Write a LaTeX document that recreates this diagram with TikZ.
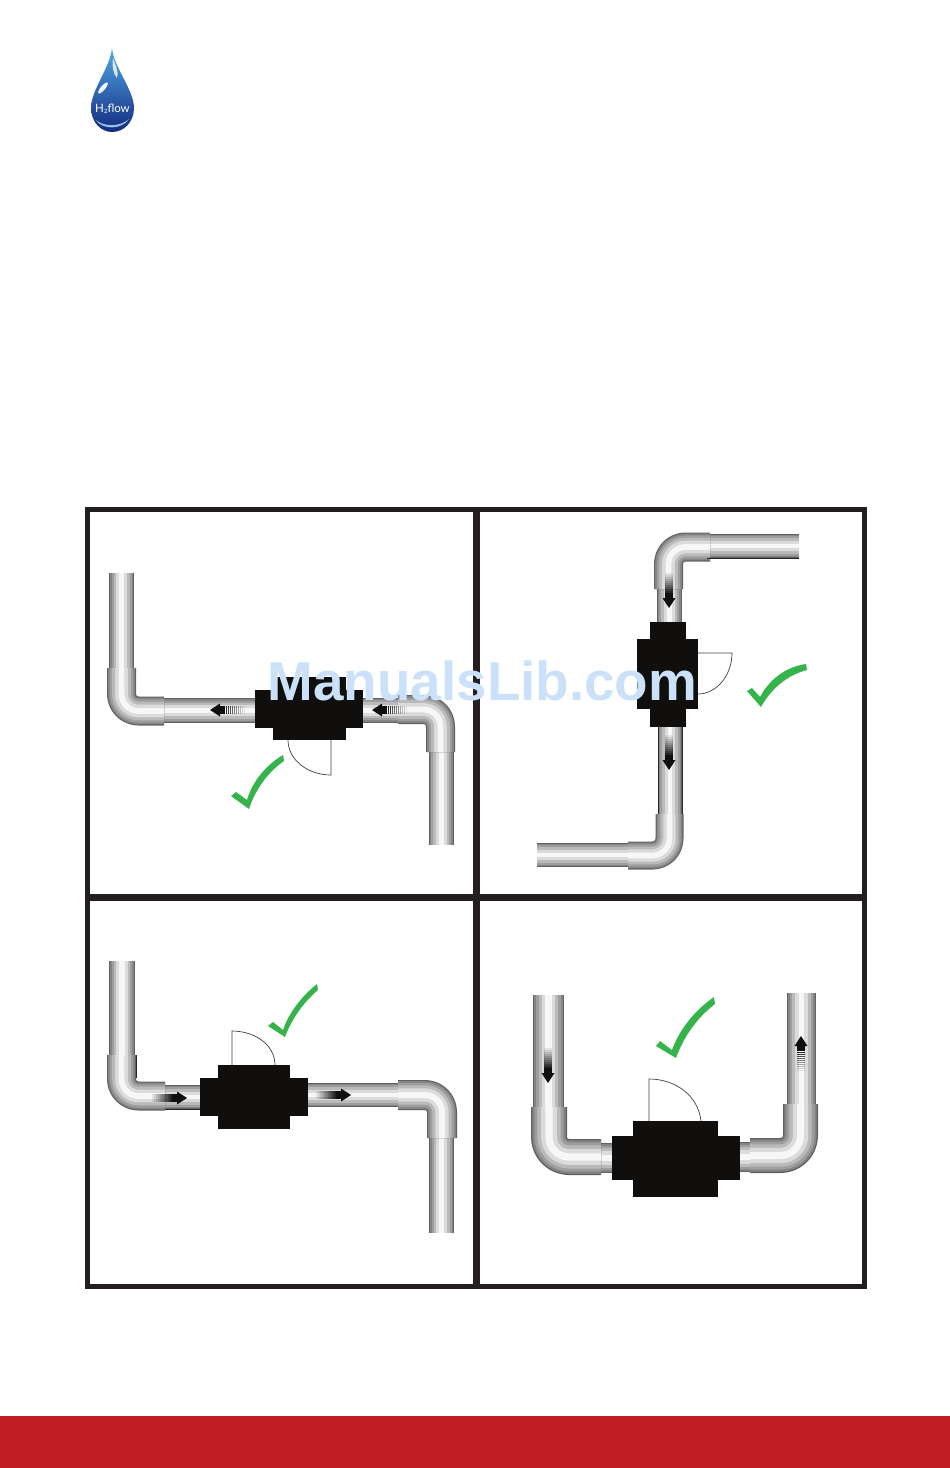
\documentclass[tikz,border=0pt]{standalone}
\usepackage{fontspec}
\setmainfont{Liberation Sans}
\newfontfamily\logofont{Lato}
\usetikzlibrary{calc}
\definecolor{blockblack}{HTML}{100F0D}
\definecolor{tickgreen}{HTML}{34B44A}
\definecolor{bandred}{HTML}{BE1E24}
\definecolor{markblue}{HTML}{CBE0F9}
\definecolor{framedark}{HTML}{231F20}
\definecolor{droptop}{HTML}{4FA8E6}
\definecolor{dropmid}{HTML}{1660B8}
\definecolor{dropbot}{HTML}{142A80}
\newcommand{\pipelayers}[2]{%
  \foreach \ww/\gg in {1/38,.92/52,.8/62,.64/73,.44/86,.2/97}{%
    \draw[line width=\ww*#1 pt,black!\the\numexpr100-\gg\relax,line join=round] #2;}%
}
\newcommand{\flowarrow}[3]{%
  \begin{scope}[shift={(#1,#2)},rotate=#3]
    \fill[blockblack] (0,0) -- (-10pt,6.5pt) -- (-10pt,-6.5pt) -- cycle;
    \fill[blockblack] (-10pt,-4pt) rectangle (-15pt,4pt);
    \foreach \i in {0,...,9}{%
      \pgfmathsetmacro{\op}{.9-\i/11}
      \fill[blockblack,opacity=\op] (-15.5pt-\i*2pt,-4pt) rectangle (-16.7pt-\i*2pt,4pt);}
  \end{scope}}
\newcommand{\flowblock}[8]{%
  \fill[blockblack] (#1,#5) rectangle (#2,#6);
  \fill[blockblack] (#3,#7) rectangle (#4,#8);}
\tikzset{
  doorline/.style={draw=black!75,line width=.7pt},
  tickmark/.style={fill=tickgreen,draw=none},
  frameline/.style={draw=framedark,line width=5pt},
  frameinner/.style={draw=framedark,line width=6.5pt},
  pipeedge/.style={draw=black!85,line width=1pt},
}
\begin{document}
\begin{tikzpicture}[x=1pt,y=-1pt]
\useasboundingbox (0,0) rectangle (950,1468);
\fill[white] (0,0) rectangle (950,1468);
% logo
\begin{scope}
  \path[clip] (112,48) .. controls (110,68) and (91,90) .. (91,108)
     .. controls (91,122) and (101,132) .. (112,132)
     .. controls (124,132) and (134,122) .. (134,108)
     .. controls (134,90) and (114,68) .. (112,48) -- cycle;
  \shade[top color=droptop,middle color=dropmid,bottom color=dropbot] (85,48) rectangle (140,132);
  \fill[white,opacity=.95,rotate around={50:(103,88)}] (103,88) ellipse (7 and 2.2);
  \fill[white,opacity=.8] (113,58) .. controls (116,66) and (119,72) .. (117,78) .. controls (113,74) and (112,66) .. (113,58) -- cycle;
  \fill[cyan!30,opacity=.8] (96,120) .. controls (104,127) and (120,127) .. (129,119) .. controls (122,130) and (102,130) .. (96,120) -- cycle;
\end{scope}
\node[text=white,inner sep=0pt,font=\logofont\fontsize{11.5}{11.5}\selectfont] (logotext) at (112.5,109) {H\raisebox{-1.5pt}{\fontsize{6}{6}\selectfont 2}flow};
% panel 1
\pipelayers{25}{(121.5,573) -- (121.5,668)}
\pipelayers{25}{(164,710.5) -- (255,710.5)}
\pipelayers{29}{(121.5,668) [rounded corners=17pt] -- (121.5,711) -- (164,711)}
\pipelayers{25}{(363,710) -- (398,710)}
\pipelayers{25}{(441,752) -- (441,845)}
\pipelayers{29}{(398,709.5) [rounded corners=17pt] -- (440.5,709.5) -- (440.5,752)}
\flowblock{255}{363}{273}{346}{690}{728}{677}{740}
\draw[doorline] (331,740) -- (331,775) .. controls (308,775) and (288,760) .. (288,740);
\flowarrow{210}{710}{180}
\flowarrow{372}{710}{180}
\fill[tickmark] (231,796) -- (236,792) -- (247,800) .. controls (252,782) and (266,765) .. (283,755) -- (284,761) .. controls (268,772) and (255,790) .. (249,809) -- cycle;
% panel 2
\pipelayers{24}{(707,546) -- (799,546)}
\pipelayers{25}{(669,589) -- (669,622)}
\pipelayers{29}{(710,547) [rounded corners=17pt] -- (668.5,547) -- (668.5,589)}
\pipelayers{24}{(670,727) -- (670,814)}
\pipelayers{24}{(537,855) -- (628,855)}
\pipelayers{28}{(669.5,814) [rounded corners=17pt] -- (669.5,855.5) -- (628,855.5)}
\draw[pipeedge] (707,558) -- (799,558);
\draw[pipeedge] (658,727) -- (658,814);
\draw[pipeedge] (682,727) -- (682,814);
\flowblock{637}{698}{650}{686}{639}{709}{622}{727}
\draw[doorline] (698,653) -- (732,653) .. controls (732,676) and (716,694) .. (698,694);
\flowarrow{669}{608}{-90}
\flowarrow{669}{770}{-90}
\fill[tickmark] (747,691) -- (752,688) -- (760,697) .. controls (769,680) and (785,667) .. (806,664) -- (807,670) .. controls (787,675) and (771,689) .. (761,707) -- cycle;
% panel 3
\pipelayers{26}{(122,961) -- (122,1055)}
\pipelayers{24}{(165,1097) -- (200,1097)}
\pipelayers{29}{(121.5,1055) [rounded corners=17pt] -- (121.5,1096) -- (165,1096)}
\pipelayers{24}{(308,1095) -- (398,1095)}
\pipelayers{25}{(441.5,1138) -- (441.5,1233)}
\pipelayers{30}{(398,1095) [rounded corners=17pt] -- (442,1095) -- (442,1138)}
\draw[pipeedge] (165,1109.3) -- (200,1109.3);
\draw[pipeedge] (136.3,1055) -- (136.3,1078);
\flowblock{200}{308}{218}{290}{1078}{1116}{1065}{1129}
\draw[doorline] (232,1065) -- (232,1031) .. controls (255,1031) and (275,1045) .. (275,1065);
\flowarrow{187}{1098}{0}
\flowarrow{351}{1095}{0}
\fill[tickmark] (268,1026) -- (273,1022) -- (283,1030) .. controls (289,1012) and (303,995) .. (317,984) -- (318,990) .. controls (304,1002) and (292,1018) .. (285,1037) -- cycle;
% panel 4
\pipelayers{31}{(548.5,995) -- (548.5,1107)}
\pipelayers{30}{(601,1158) -- (612,1158)}
\pipelayers{36}{(549,1107) [rounded corners=20pt] -- (549,1157) -- (601,1157)}
\pipelayers{30}{(740,1157) -- (750,1157)}
\pipelayers{29}{(801.5,993) -- (801.5,1104)}
\pipelayers{35}{(750,1155.5) [rounded corners=20pt] -- (800.5,1155.5) -- (800.5,1104)}
\flowblock{612}{740}{633}{718}{1136}{1180}{1121}{1197}
\draw[doorline] (649,1121) -- (649,1079) .. controls (675,1079) and (698,1095) .. (701,1121);
\flowarrow{548}{1083}{-90}
\flowarrow{801}{1036}{90}
\fill[tickmark] (656,1046) -- (660,1041) -- (672,1050) .. controls (679,1030) and (695,1010) .. (714,997) -- (715,1004) .. controls (697,1018) and (684,1036) .. (676,1058) -- cycle;
% frames
\draw[frameline] (87.5,509.5) rectangle (864.3,1286.3);
\draw[frameinner] (476.7,509.5) -- (476.7,1286.3);
\draw[frameinner] (87.5,897.6) -- (864.3,897.6);
% band
\fill[bandred] (0,1416) rectangle (950,1468);
% watermark
\node[text=markblue,inner sep=0pt,anchor=base,font=\bfseries\fontsize{54.8}{55}\selectfont] (watermark) at (482.5,700) {ManualsLib.com};
\end{tikzpicture}
\end{document}
